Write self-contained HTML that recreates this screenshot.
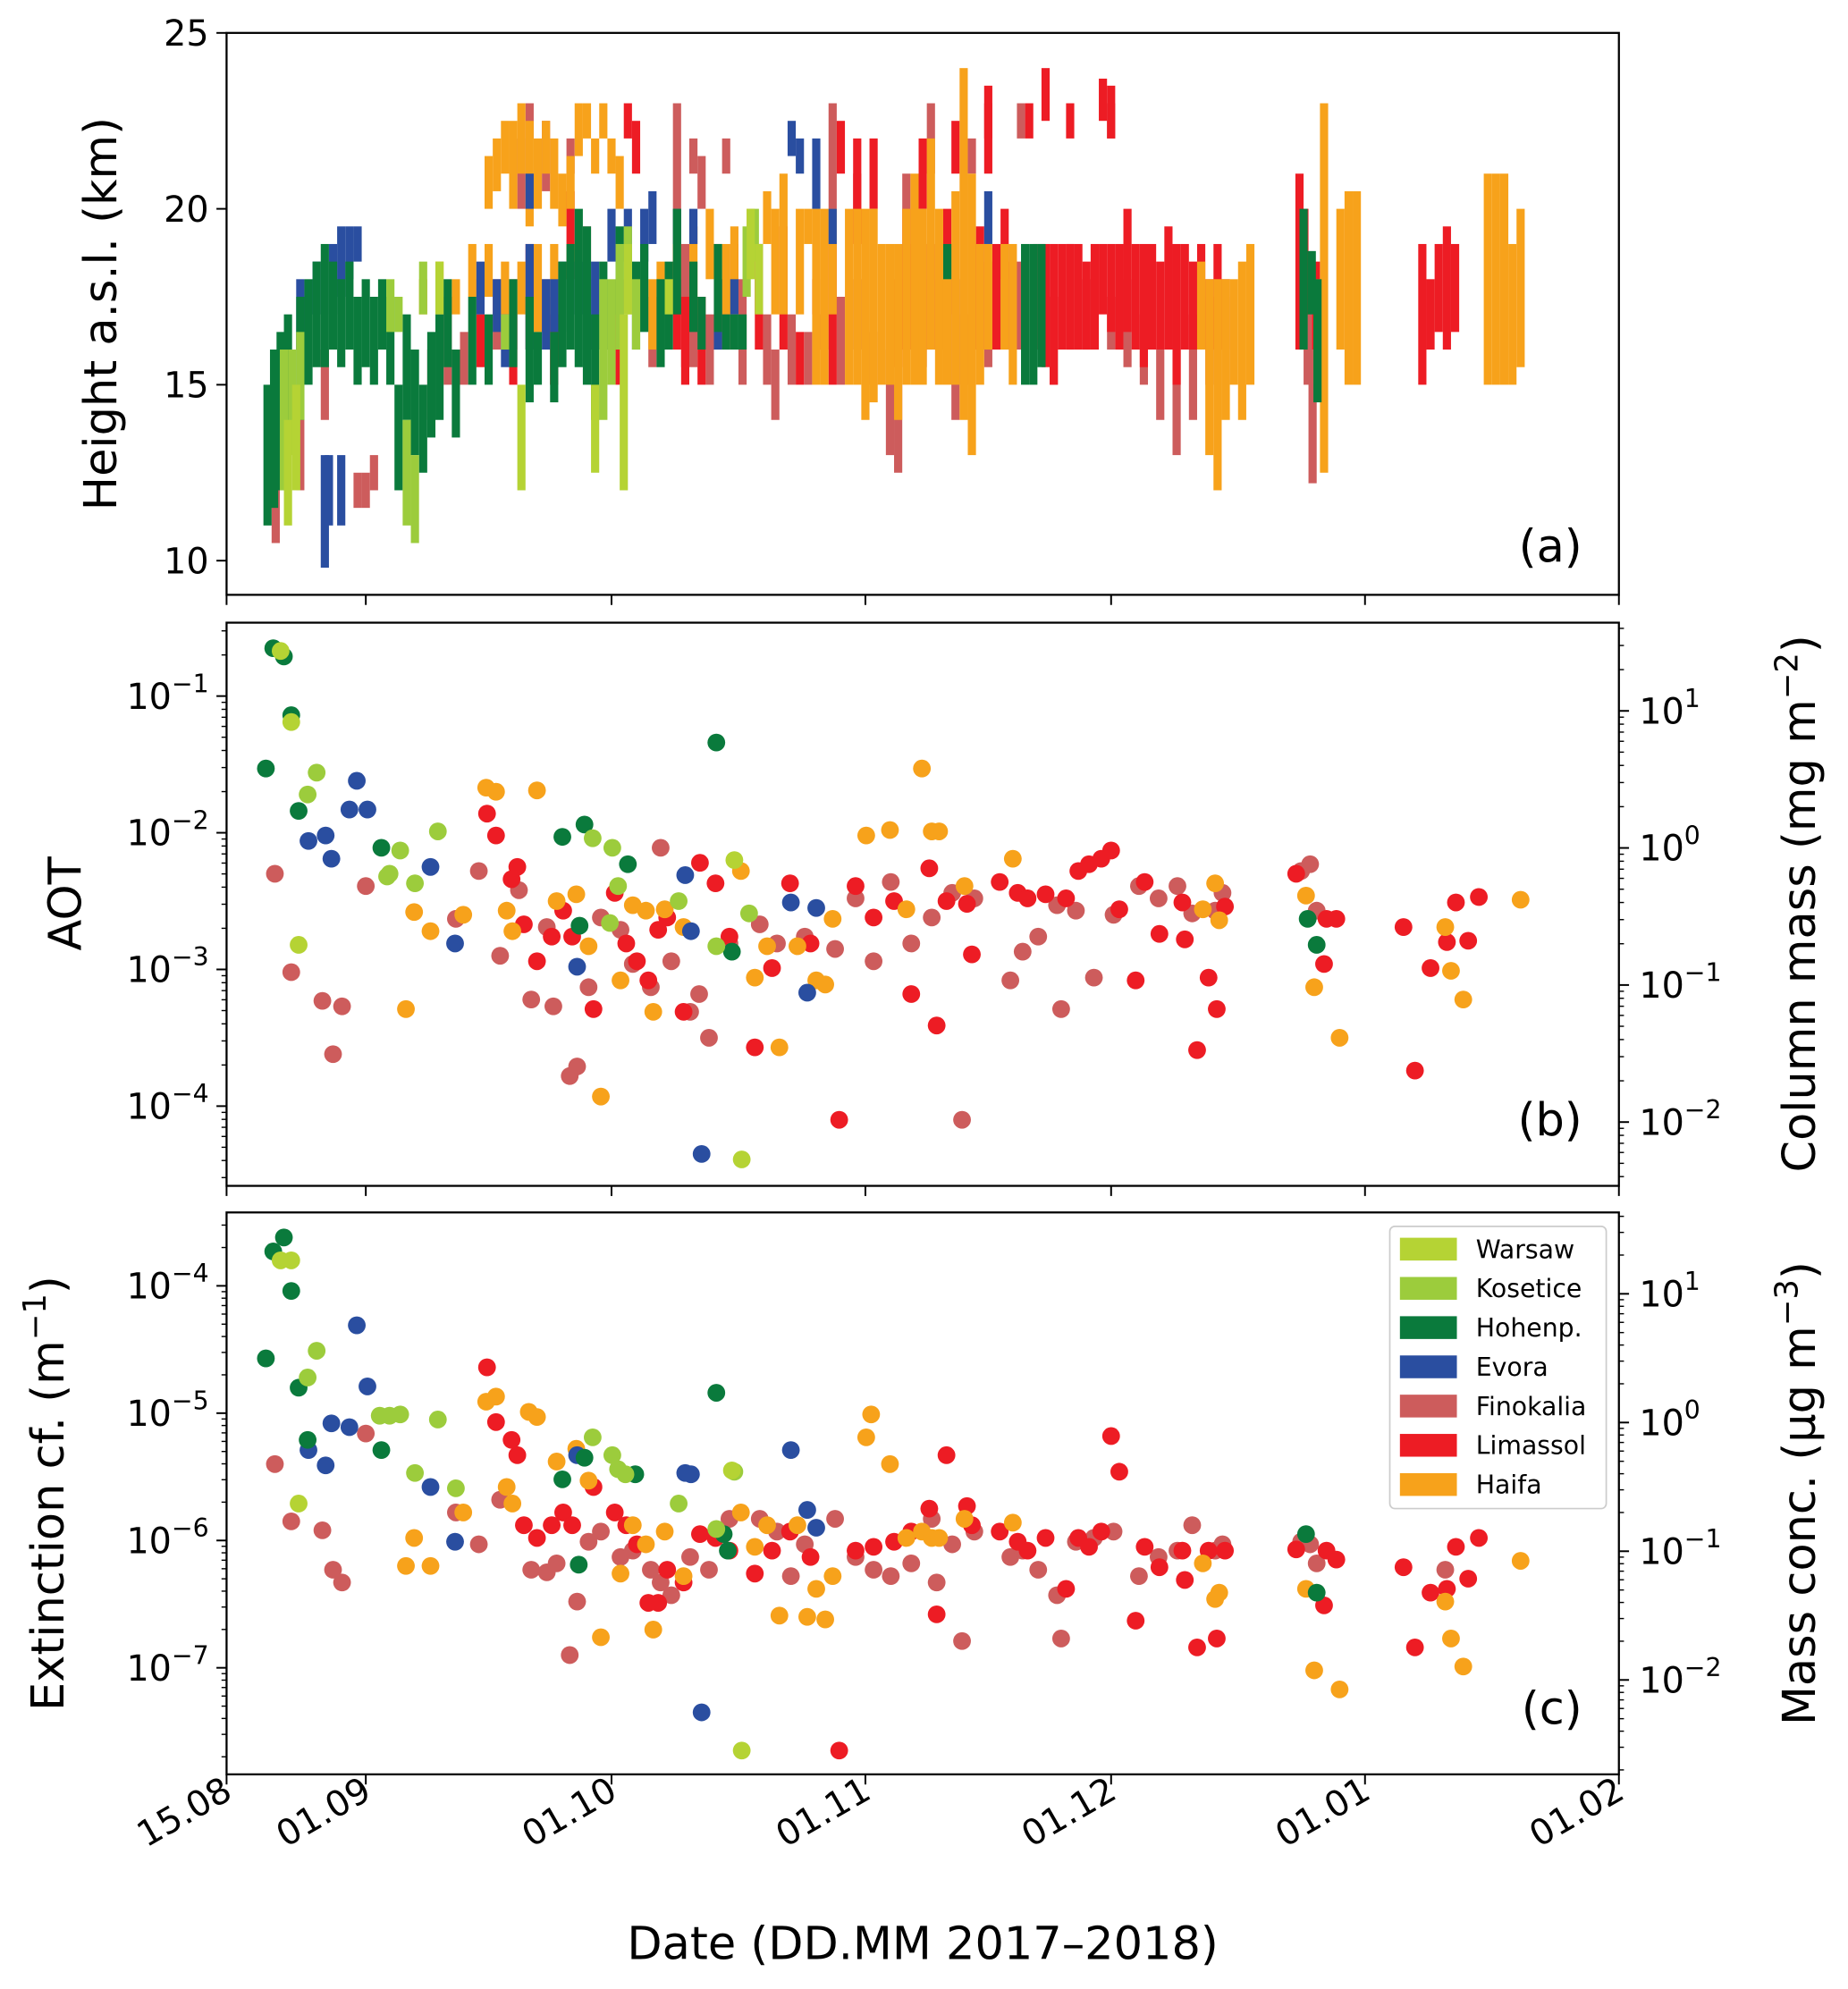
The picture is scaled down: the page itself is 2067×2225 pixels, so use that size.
<!DOCTYPE html>
<html><head><meta charset="utf-8"><style>
html,body{margin:0;padding:0;background:#fff}
svg{display:block;font-family:"DejaVu Sans","Liberation Sans",sans-serif}
</style></head><body>
<svg id="chart" width="2067" height="2225" viewBox="0 0 1460 1571.6" preserveAspectRatio="none" xmlns="http://www.w3.org/2000/svg"></svg>
<script>
// ---------- DATA ----------
const stations = ["Warsaw","Kosetice","Hohenp.","Evora","Finokalia","Limassol","Haifa"];
const colors = ["#b5d334","#9ccc3c","#0a7a3c","#2a4ea0","#cd5c5c","#ed1c24","#f7a21b"];
const xTickLabels = ["15.08","01.09","01.10","01.11","01.12","01.01","01.02"];
const xTickDays = [0,17,47,78,108,139,170];
const heightTicks = [10,15,20,25];
const aotTicks = [-4,-3,-2,-1];
const massColTicks = [-2,-1,0,1];
const extTicks = [-7,-6,-5,-4];
const massConcTicks = [-2,-1,0,1];

// panel (a) layers: [day, bottom km, top km]
const layersWarsaw = [[7.5,11,14],[8.5,12,15],[26,17,18.5],[36,12,15],[45,12.5,15],[48.5,12,17],[49,17,19],[64,18,20],[65,17,19],[54,17,18]];
const layersKosetice = [[7,12,16],[8,13,16],[9,14,16.5],[20,16.5,18],[21,16.5,17.5],[22,11,14],[23,10.5,13],[24,17,18.5],[46,14,18],[47,15,18],[48,16,19],[49,17,19.5],[50,16,18],[63.5,17.5,19.5],[64.5,18.5,20],[34,16,17]];
const layersHohenp = [[5,11,15],[5.8,11.5,16],[6.6,12,16.5],[7.5,13.5,17],[9,14,17.5],[10,15,18],[11,15.5,18.5],[12,15.5,19],[13,16,18.5],[14,15.5,18],[15,16,18.5],[16,15,17.5],[17,15.5,18],[18,15,17.5],[19,16,18],[20,15,17.5],[21,12,15],[22,14,17],[23,13,16],[24,12.5,15],[25,13.5,16.5],[26,14,17],[27,15.5,18],[28,13.5,16],[30,15,17.5],[32,15,17],[35,15.5,18],[37,14.5,17.5],[38,15,16.5],[40,14.5,16.5],[41,15.5,18.5],[42,16,19],[43,15.5,20],[44,15,19.5],[45,14,17],[46,16,18.5],[48,17,19.5],[50,16,18.5],[51,16.5,19],[53,15.5,18],[54,16,18.5],[55,17,20],[57,16.5,18.5],[58,16,17.5],[60,16.5,19],[61,16,17],[62,16,17],[63,16,17],[88,18,19],[97.5,15,19],[98.5,15,19],[99.5,15.5,19],[131.5,16,20],[132.5,17,18.8],[133.2,14.5,18]];
const layersEvora = [[9,16,18],[11,17,18.5],[13,17,19],[14,17.5,19.5],[15,18,19.5],[16,18.5,19.5],[12,9.8,13],[12.5,11,13],[14,11,13],[26,17,18],[31,17,18.5],[33,16.5,18],[34,15.5,17],[37,16,19],[39,16,18],[40,16.5,18],[41,16.5,18.5],[43,17,18.5],[44,16,18],[45,16,18.5],[47,18.5,20],[49,18.5,20],[51,18.5,20],[52,19,20.5],[55,19,20],[57,19,20],[60,16,18],[62,17,18],[69,21.5,22.5],[70,21,22],[72,20,22],[74,19,20],[37,20,21],[93,19,20.5]];
const layersFinokalia = [[6,10.5,13],[9,12,15],[12,14,16],[16,11.5,12.5],[17,11.5,12.5],[18,12,13],[25,14,16],[27,15,17.5],[29,15,16.5],[31,17,18],[33,16,18],[35,16,18],[39,16.5,18],[40,15,17.5],[44,17.5,19.5],[47,16,17.5],[52,15.5,17.5],[53,16,18],[56,15.5,19],[57,15.5,17.5],[59,15,17],[61,16,18],[63,15,18],[65,17,19],[66,15,17],[67,14,16],[69,15,17],[71,15,16.5],[73,16,17],[75,15,17.5],[77,16,18],[79,15,16.5],[81,13,16],[82,12.5,15],[83,16,19],[85,15.5,18],[87,16,18],[89,14,18],[90,15,17],[93,15.5,18.5],[95,16,18],[97,16,18.5],[99,16,19],[101,15,17.5],[103,16,19],[105,16,18],[108,16,17.5],[110,15.5,18],[112,15,17],[114,14,16],[116,13,16],[118,14,17],[120,15,17.5],[122,15,17.5],[36,20,22],[37,22,23],[39,20.5,22.5],[42,21,22],[55,20,23],[57,21,22],[58,20,21.5],[61,21,22],[74,20,23],[77,19,21],[83,20,21],[86,21,23],[91,21,22],[93,22,23],[97,22,23],[108,22,23],[132,15,18],[132.6,12.2,16]];
const layersLimassol = [[31,15.5,17],[35,15,17],[37,16,19],[40,15,17],[42,18,20.5],[48,15,18],[49,22,23],[50,21,22.5],[55,16,19],[56,15,17.5],[58,15,17.5],[60,16,19],[62,17,19],[65,16,19],[68,16,19.5],[70,15,16.5],[72,17,18],[74,15,19],[75,21,22.5],[77,19,22],[79,20,22],[82,15.5,18],[83,16,20],[85,20,22],[86,16,19],[88,17,20],[89,21,22.5],[91,16,19],[92,16,19.5],[93,21,23.5],[94,16,19],[95,18,20],[96,16,18.5],[100,15.5,19],[101,15,19],[102,16,19],[103,16,19],[104,16,19],[105,16,18.5],[106,16,19],[107,17,19],[108,16.5,19],[109,16,19],[110,16.5,20],[111,16,19],[112,15.5,19],[113,16,19],[114,16,18.5],[115,16,19.5],[116,15,19],[117,16,19],[118,16,18.5],[119,16.5,19],[120,16,18],[121,16,19],[122,16,18],[131,16,21],[131.6,17,20],[133,16,18.5],[146,15,19],[147,16,18],[148,16.5,19],[149,16,19.5],[150,16.5,19],[103,22,23],[107,22.5,23.7],[108,22,23.5],[98,22,23],[100,22.5,24]];
const layersHaifa = [[24,17,18],[26,17,18.5],[28,17,18],[30,17.5,19],[32,17.5,19],[34,17,18.5],[36,17,18.5],[38,16.5,19],[40,17,19],[42,18,19],[32,20,21.5],[33,20.5,22],[34,21,22.5],[35,20,22.5],[36,21,23],[37,19.5,22.5],[38,20,22],[39,21,22.5],[40,20,22],[41,19.5,21],[42,20,21.5],[43,21.5,23],[44,22,23],[45,21,22],[46,22,23],[47,21,22],[48,20,21.5],[52,16,18],[53,17,18.5],[55,18,20],[57,17,19.5],[59,18,20],[60,17,18],[61,17,19],[62,17,19.5],[64,19,20],[66,19,20.5],[67,17,20],[68,17,21],[70,17,20],[71,19,20],[72,15,20],[73,15,20],[74,17,20],[76,15,20],[77,15,20],[78,14,20],[79,14.5,20],[80,15,19],[81,15,19],[82,14,19],[83,15,20],[84,15,21],[85,15,20],[86,16,22],[87,15,20],[88,15,19],[89,15,20.5],[90,14,24],[91,13,21],[92,15,19],[93,16,19],[95,16,19],[96,15,19],[119,16,18.5],[120,13,18],[121,12,18],[122,14,18],[123,15,18],[124,14,18.5],[125,15,19],[133.2,15,18],[134,12.5,23],[136,16,20],[137,15,20.5],[138,15,20.5],[154,15,21],[155,15,21],[156,15,21],[157,15,19],[158,15.5,20]];

// panel (b) AOT: [day, log10(AOT)]
const aotWarsaw = [[6.6,-0.67],[7.9,-1.19],[8.8,-2.82],[62.0,-2.20],[62.9,-4.39]];
const aotKosetice = [[9.9,-1.72],[11.0,-1.56],[19.9,-2.30],[21.2,-2.13],[23.0,-2.37],[25.8,-1.99],[44.7,-2.04],[47.1,-2.11],[47.8,-2.39],[19.6,-2.32],[55.2,-2.50],[59.8,-2.83],[46.8,-2.66],[63.8,-2.59]];
const aotHohenp = [[4.8,-1.53],[5.7,-0.65],[7.0,-0.71],[7.9,-1.14],[8.8,-1.84],[18.9,-2.11],[41.0,-2.03],[43.7,-1.94],[49.0,-2.23],[59.8,-1.34],[61.7,-2.87],[132.0,-2.63],[133.1,-2.82],[43.1,-2.68]];
const aotEvora = [[10.0,-2.06],[12.1,-2.02],[12.8,-2.19],[15.0,-1.83],[15.9,-1.62],[17.2,-1.83],[24.9,-2.25],[27.9,-2.81],[42.8,-2.98],[56.0,-2.31],[56.7,-2.72],[58.0,-4.35],[68.9,-2.51],[70.9,-3.17],[72.0,-2.55]];
const aotFinokalia = [[5.9,-2.30],[7.9,-3.02],[11.7,-3.23],[14.1,-3.27],[13.0,-3.62],[17.0,-2.39],[28.0,-2.63],[30.8,-2.28],[33.4,-2.90],[35.7,-2.42],[37.2,-3.22],[39.1,-2.69],[39.9,-3.27],[41.9,-3.78],[42.8,-3.71],[44.2,-3.13],[45.7,-2.62],[48.1,-2.71],[49.6,-2.96],[51.8,-3.13],[53.0,-2.11],[54.3,-2.94],[56.6,-3.31],[58.9,-3.50],[57.7,-3.18],[61.4,-2.81],[65.1,-2.67],[67.2,-2.81],[70.6,-2.76],[74.3,-2.85],[76.8,-2.48],[79.0,-2.94],[81.1,-2.36],[83.6,-2.81],[86.1,-2.62],[88.6,-2.44],[91.3,-2.48],[95.7,-3.08],[97.2,-2.87],[99.1,-2.76],[101.4,-2.53],[101.9,-3.29],[103.7,-2.57],[105.9,-3.06],[108.3,-2.60],[111.4,-2.39],[113.8,-2.48],[116.1,-2.39],[117.9,-2.59],[120.7,-2.57],[121.6,-2.44],[131.2,-2.28],[132.3,-2.23],[133.1,-2.57],[89.8,-4.10]];
const aotLimassol = [[31.8,-1.86],[32.9,-2.02],[34.8,-2.34],[35.5,-2.25],[36.3,-2.67],[37.9,-2.94],[39.7,-2.76],[41.1,-2.57],[42.2,-2.76],[44.8,-3.29],[47.4,-2.44],[48.8,-2.81],[50.1,-2.94],[51.5,-3.08],[52.7,-2.71],[53.8,-2.62],[55.8,-3.31],[57.8,-2.22],[59.7,-2.37],[61.4,-2.76],[64.5,-3.57],[66.6,-2.99],[68.8,-2.37],[71.3,-2.81],[74.8,-4.10],[76.8,-2.39],[79.0,-2.62],[81.5,-2.50],[83.6,-3.18],[85.8,-2.26],[86.7,-3.41],[87.9,-2.50],[90.4,-2.52],[91.0,-2.89],[94.4,-2.36],[96.6,-2.44],[97.8,-2.48],[100.0,-2.45],[102.5,-2.48],[104.0,-2.28],[105.3,-2.23],[106.8,-2.19],[108.0,-2.13],[109.0,-2.56],[111.0,-3.08],[112.1,-2.36],[113.9,-2.74],[116.7,-2.51],[117.0,-2.78],[118.5,-3.59],[119.9,-3.06],[120.9,-3.29],[121.9,-2.54],[130.6,-2.30],[134.0,-2.96],[134.3,-2.63],[135.5,-2.63],[143.7,-2.69],[145.1,-3.74],[147.0,-2.99],[149.0,-2.80],[150.1,-2.51],[151.6,-2.79],[152.9,-2.47]];
const aotHaifa = [[31.7,-1.67],[32.9,-1.70],[34.2,-2.57],[34.9,-2.72],[37.9,-1.69],[40.3,-2.50],[42.7,-2.45],[44.2,-2.83],[45.7,-3.93],[48.1,-3.08],[49.6,-2.53],[51.2,-2.57],[52.1,-3.31],[53.5,-2.56],[55.8,-2.69],[62.8,-2.28],[64.5,-3.06],[66.0,-2.83],[67.5,-3.57],[69.7,-2.83],[72.0,-3.08],[73.1,-3.11],[74.0,-2.63],[78.1,-2.02],[81.0,-1.98],[83.0,-2.56],[84.9,-1.53],[86.1,-1.99],[87.0,-1.99],[90.1,-2.39],[96.0,-2.19],[119.2,-2.56],[120.7,-2.37],[121.2,-2.64],[131.8,-2.46],[132.8,-3.13],[135.9,-3.50],[148.8,-2.69],[149.5,-3.01],[151.0,-3.22],[158.0,-2.49],[21.9,-3.29],[22.9,-2.58],[24.9,-2.72],[28.9,-2.60]];

// panel (c) extinction: [day, log10(ext)]
const extWarsaw = [[6.6,-3.80],[7.9,-3.80],[8.8,-5.71],[61.7,-5.45],[62.9,-7.65]];
const extKosetice = [[9.9,-4.72],[11.0,-4.51],[18.7,-5.02],[19.9,-5.02],[21.2,-5.01],[23.0,-5.47],[25.8,-5.05],[28.0,-5.59],[44.7,-5.19],[47.1,-5.33],[47.8,-5.44],[48.7,-5.48],[55.2,-5.71],[59.8,-5.91],[62.0,-5.46]];
const extHohenp = [[4.8,-4.57],[5.7,-3.73],[7.0,-3.62],[7.9,-4.04],[8.8,-4.80],[9.9,-5.21],[18.9,-5.29],[41.0,-5.52],[43.7,-5.35],[49.9,-5.48],[59.8,-4.84],[60.7,-5.95],[61.2,-6.08],[131.8,-5.95],[133.1,-6.41],[43.0,-6.19]];
const extEvora = [[10.0,-5.29],[12.1,-5.41],[12.8,-5.08],[15.0,-5.11],[15.9,-4.31],[17.2,-4.79],[24.9,-5.58],[27.9,-6.01],[42.8,-5.33],[56.0,-5.47],[56.7,-5.48],[58.0,-7.35],[68.9,-5.29],[70.9,-5.76],[72.0,-5.90]];
const extFinokalia = [[5.9,-5.40],[7.9,-5.85],[11.7,-5.92],[13.0,-6.23],[14.1,-6.33],[17.0,-5.16],[28.0,-5.78],[30.8,-6.03],[33.4,-5.68],[37.2,-6.23],[39.1,-6.25],[40.3,-6.18],[41.9,-6.90],[42.8,-6.48],[44.2,-6.01],[45.7,-5.93],[48.1,-6.13],[49.6,-6.08],[51.8,-6.23],[53.0,-6.33],[54.3,-6.43],[56.6,-6.13],[58.9,-6.23],[61.4,-5.83],[65.1,-5.83],[67.2,-5.93],[68.9,-6.28],[70.6,-6.03],[74.3,-5.83],[76.8,-6.13],[79.0,-6.23],[81.1,-6.28],[83.6,-6.18],[86.1,-5.83],[86.7,-6.33],[88.6,-6.03],[89.8,-6.79],[91.3,-5.93],[95.7,-6.13],[97.2,-6.08],[99.1,-6.23],[101.4,-6.43],[101.9,-6.77],[103.7,-6.01],[105.9,-5.98],[108.3,-5.93],[111.4,-6.28],[113.8,-6.13],[116.1,-6.08],[117.9,-5.88],[120.7,-6.08],[121.6,-6.03],[131.2,-6.01],[132.3,-6.03],[133.1,-6.18],[148.8,-6.23]];
const extLimassol = [[31.8,-4.64],[32.9,-5.07],[34.8,-5.21],[35.5,-5.33],[36.3,-5.88],[37.9,-5.98],[39.7,-5.88],[41.1,-5.78],[42.2,-5.88],[44.8,-5.58],[47.4,-5.78],[48.8,-5.88],[50.1,-6.03],[51.5,-6.49],[52.7,-6.49],[53.8,-6.23],[55.8,-6.33],[57.8,-5.95],[59.7,-5.98],[61.4,-6.08],[64.5,-6.26],[66.6,-6.08],[68.8,-5.93],[71.3,-6.13],[74.8,-7.65],[76.8,-6.08],[79.0,-6.05],[81.5,-6.01],[83.6,-5.93],[85.8,-5.75],[86.7,-6.58],[87.9,-5.33],[90.4,-5.73],[91.0,-5.88],[94.4,-5.93],[96.6,-6.01],[97.8,-6.08],[100.0,-5.98],[102.5,-6.38],[104.0,-5.98],[105.3,-6.05],[106.8,-5.93],[108.0,-5.18],[109.0,-5.46],[111.0,-6.63],[112.1,-6.05],[113.9,-6.21],[116.7,-6.08],[117.0,-6.31],[118.5,-6.84],[119.9,-6.08],[120.9,-6.77],[121.9,-6.08],[130.6,-6.07],[134.0,-6.51],[134.3,-6.08],[135.5,-6.15],[143.7,-6.21],[145.1,-6.84],[147.0,-6.41],[149.0,-6.38],[150.1,-6.05],[151.6,-6.30],[152.9,-5.98]];
const extHaifa = [[31.7,-4.91],[32.9,-4.87],[34.2,-5.58],[34.9,-5.71],[36.9,-4.99],[37.9,-5.03],[40.3,-5.38],[42.7,-5.28],[44.2,-5.53],[45.7,-6.76],[48.1,-6.26],[49.6,-5.88],[51.2,-6.03],[52.1,-6.70],[53.5,-5.93],[55.8,-6.28],[62.8,-5.78],[64.5,-6.05],[66.0,-5.88],[67.5,-6.59],[69.7,-5.88],[70.9,-6.60],[72.0,-6.38],[73.1,-6.62],[74.0,-6.28],[78.1,-5.19],[78.7,-5.01],[81.0,-5.40],[83.0,-5.98],[84.9,-5.93],[86.1,-5.98],[87.0,-5.98],[90.1,-5.83],[96.0,-5.86],[119.2,-6.18],[120.7,-6.46],[121.2,-6.41],[131.8,-6.38],[132.8,-7.02],[135.9,-7.17],[148.8,-6.48],[149.5,-6.77],[151.0,-6.99],[158.0,-6.16],[21.9,-6.20],[22.9,-5.98],[24.9,-6.20],[28.9,-5.78]];

// ---------- RENDER ----------
const NS="http://www.w3.org/2000/svg";
const svg=document.getElementById('chart');
function el(tag,attrs,parent){const e=document.createElementNS(NS,tag);for(const k in attrs)e.setAttribute(k,attrs[k]);(parent||svg).appendChild(e);return e;}
const X0=179,X1=1279,DAYMAX=170;
function xs(d){return X0+(X1-X0)*d/DAYMAX;}
const PA={top:26,bot:470}, PB={top:492,bot:937}, PC={top:958,bot:1402};
function yA(km){return 26+(25-km)*27.8;}
function yB(l){return 550+(-1-l)*108;}
function yBr(l){return 670+(0-l)*108.3;}
function yC(l){return 1016+(-4-l)*100.6;}
function yCr(l){return 1124+(0-l)*101.7;}

const order=[4,5,6,3,2,1,0];
const layerSets=[layersWarsaw,layersKosetice,layersHohenp,layersEvora,layersFinokalia,layersLimassol,layersHaifa];
const aotSets=[aotWarsaw,aotKosetice,aotHohenp,aotEvora,aotFinokalia,aotLimassol,aotHaifa];
const extSets=[extWarsaw,extKosetice,extHohenp,extEvora,extFinokalia,extLimassol,extHaifa];

// panel a bars
const gA=el('g',{});


const bw=(X1-X0)/DAYMAX;
order.forEach(si=>{layerSets[si].forEach(b=>{
  const r=el('rect',{x:xs(b[0])-bw/2,y:yA(b[2]),width:bw,height:yA(b[1])-yA(b[2]),fill:colors[si]},gA);
  
  
});});

function scatter(sets,yf,name){
  const g=el('g',{});
  
  
  order.forEach(si=>{sets[si].forEach(p=>{
    const c=el('circle',{cx:xs(p[0]),cy:yf(p[1]),r:7,fill:colors[si]},g);
    
    
  });});
}
scatter(aotSets,yB,'aot-points');
scatter(extSets,yC,'extinction-points');

// frames
[PA,PB,PC].forEach((p,i)=>{
  const r=el('rect',{x:X0,y:p.top,width:X1-X0,height:p.bot-p.top,fill:'none',stroke:'#000','stroke-width':1.6});
  
  
  xTickDays.forEach(d=>el('line',{x1:xs(d),x2:xs(d),y1:p.bot,y2:p.bot+8,stroke:'#000','stroke-width':1.4}));
});
function txt(s,x,y,size,anchor,name,extra){const t=el('text',Object.assign({x:x,y:y,'font-size':size,'text-anchor':anchor||'middle',fill:'#000'},extra||{}));t.innerHTML=s;return t;}

// panel a y ticks
heightTicks.forEach(v=>{el('line',{x1:X0-8,x2:X0,y1:yA(v),y2:yA(v),stroke:'#000','stroke-width':1.4});
  txt(String(v),X0-14,yA(v)+10,28,'end','height-tick-label');});

function logTicks(ticks,yf,side,lo,hi,name,labelOff){
  const xe= side==='l'?X0:X1, dir= side==='l'?-1:1;
  for(let e=lo;e<=hi;e++){for(let m=1;m<10;m++){const y=yf(e+Math.log10(m));
    if(y<0) continue;
    if(m===1){el('line',{x1:xe,x2:xe+dir*8,y1:y,y2:y,stroke:'#000','stroke-width':1.4});}
    else el('line',{x1:xe,x2:xe+dir*4,y1:y,y2:y,stroke:'#000','stroke-width':1});}}
  ticks.forEach(e=>{const y=yf(e);
    const t=txt('10<tspan font-size="20" dy="-13">'+(e<0?'\u2212'+(-e):e)+'</tspan>', side==='l'?X0-14:X1+16, y+10, 28, side==='l'?'end':'start', name);});
}
// clip minor ticks within panels by selecting ranges
function logTicksClipped(ticks,yf,side,lo,hi,p,name){
  const xe= side==='l'?X0:X1, dir= side==='l'?-1:1;
  for(let e=lo;e<=hi;e++){for(let m=1;m<10;m++){const y=yf(e+Math.log10(m));
    if(y<p.top||y>p.bot) continue;
    el('line',{x1:xe,x2:xe+dir*(m===1?8:4),y1:y,y2:y,stroke:'#000','stroke-width':m===1?1.4:1});}}
  ticks.forEach(e=>{txt('10<tspan font-size="20" dy="-13">'+(e<0?'\u2212'+(-e):e)+'</tspan>', side==='l'?X0-14:X1+16, yf(e)+10, 28, side==='l'?'end':'start', name);});
}
logTicksClipped(aotTicks,yB,'l',-5,0,PB,'aot-tick-label');
logTicksClipped(massColTicks,yBr,'r',-3,1,PB,'column-mass-tick-label');
logTicksClipped(extTicks,yC,'l',-8,-4,PC,'extinction-tick-label');
logTicksClipped(massConcTicks,yCr,'r',-3,1,PC,'mass-conc-tick-label');

// x tick labels
xTickDays.forEach((d,i)=>{txt(xTickLabels[i],xs(d)+6,1420,28,'end','x-tick-label',{transform:'rotate(-30 '+(xs(d)+6)+' 1420)'});});

// axis titles
txt('Date (DD.MM 2017\u20132018)',729,1548,36,'middle','x-axis-title');
txt('Height a.s.l. (km)',92,248,36,'middle','height-axis-title',{transform:'rotate(-90 92 248)'});
txt('AOT',64,714,36,'middle','aot-axis-title',{transform:'rotate(-90 64 714)'});
txt('Extinction cf. (m<tspan font-size="25" dy="-14">\u22121</tspan><tspan dy="14">)</tspan>',50,1180,36,'middle','extinction-axis-title',{transform:'rotate(-90 50 1180)'});
txt('Column mass (mg m<tspan font-size="25" dy="-14">\u22122</tspan><tspan dy="14">)</tspan>',1434,714,36,'middle','column-mass-axis-title',{transform:'rotate(-90 1434 714)'});
txt('Mass conc. (\u03bcg m<tspan font-size="25" dy="-14">\u22123</tspan><tspan dy="14">)</tspan>',1434,1180,36,'middle','mass-conc-axis-title',{transform:'rotate(-90 1434 1180)'});
txt('(a)',1250,444,36,'end','panel-label-a');
txt('(b)',1250,897,36,'end','panel-label-b');
txt('(c)',1250,1362,36,'end','panel-label-c');

// legend
const lg=el('g',{});


el('rect',{x:1098,y:969,width:171,height:223,rx:4,fill:'#fff','fill-opacity':0.85,stroke:'#ccc','stroke-width':1.2},lg);
stations.forEach((s,i)=>{
  const y=987+i*31;
  const r=el('rect',{x:1106,y:y-9,width:45,height:18,fill:colors[i]},lg);
  
  
  const t=el('text',{x:1166,y:y+7,'font-size':20,fill:'#000'},lg);
  t.textContent=s;
  
  
});
</script>
</body></html>
